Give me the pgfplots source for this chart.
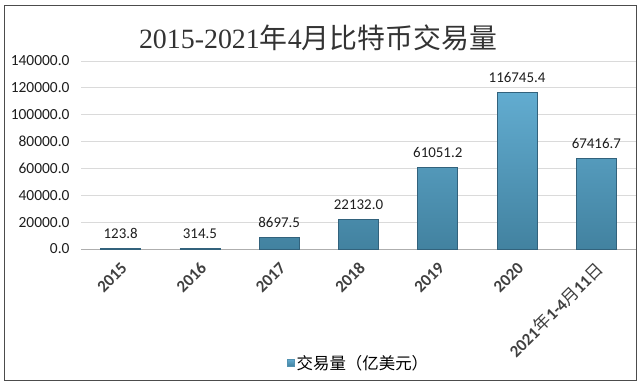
\documentclass[border=0pt]{standalone}
\usepackage{pgfplots}
\pgfplotsset{compat=1.18}
\usepackage{fontspec}
\setmainfont{Carlito}
\newfontfamily\cjk{Noto Sans CJK SC}
\newfontfamily\titleserif{Liberation Serif}
\definecolor{barTop}{RGB}{98,172,208}
\definecolor{barBot}{RGB}{66,130,160}
\definecolor{barEdge}{RGB}{50,98,124}
\definecolor{gridc}{RGB}{218,218,218}
\definecolor{txt}{RGB}{30,30,30}
\begin{document}
\begin{tikzpicture}[x=1bp,y=1bp]
\path (0,0) rectangle (640,384);
\draw[black!70, line width=0.8bp] (4,4) rectangle (636,379);
\node[text=black!80, font=\fontsize{28}{30}\selectfont] at (318,346) {\titleserif 2015-2021\cjk 年\titleserif 4\cjk 月比特币交易量};
\begin{axis}[
  at={(81bp,135bp)}, anchor=south west,
  scale only axis, width=555bp, height=188bp,
  xmin=-0.5, xmax=6.5, ymin=0, ymax=140000,
  ytick={0,20000,...,140000},
  xtick={0,...,6},
  xticklabels={2015,2016,2017,2018,2019,2020,{2021{\mdseries\cjk 年}1-4{\mdseries\cjk 月}11{\mdseries\cjk 日}}},
  axis line style={draw=none},
  ymajorgrids, grid style={gridc, line width=0.8bp},
  major tick length=0pt,
  scaled y ticks=false,
  /pgf/number format/.cd, fixed, fixed zerofill, precision=1, 1000 sep={}, assume math mode=true,
  /pgfplots/.cd,
  yticklabel style={font=\fontsize{15.5}{17}\selectfont, text=txt, xshift=-8bp},
  xticklabel style={font=\fontsize{17}{19}\selectfont\bfseries, text=txt!85, xshift=6bp, yshift=-14bp, rotate=45, anchor=east},
  ybar, bar width=40bp,
  nodes near coords,
  nodes near coords style={font=\fontsize{15}{17}\selectfont, text=txt, yshift=6bp},
  legend style={at={(0.5,-0.605)}, anchor=center, draw=none, fill=none, font=\fontsize{16.5}{18}\selectfont\cjk, /tikz/every even column/.append style={column sep=0pt}},
  legend image code/.code={\fill[barTop!85!black] (2bp,-3.5bp) rectangle (9bp,3.5bp);},
]
\draw[gridc!80!black, line width=0.8bp] (axis cs:-0.5,0) -- (axis cs:6.5,0);
\addplot[draw=barEdge, line width=0.8bp, top color=barTop, bottom color=barBot] coordinates {
(0,123.8) (1,314.5) (2,8697.5) (3,22132.0) (4,61051.2) (5,116745.4) (6,67416.7)};
\addlegendentry{交易量（亿美元）}
\end{axis}
\end{tikzpicture}
\end{document}
